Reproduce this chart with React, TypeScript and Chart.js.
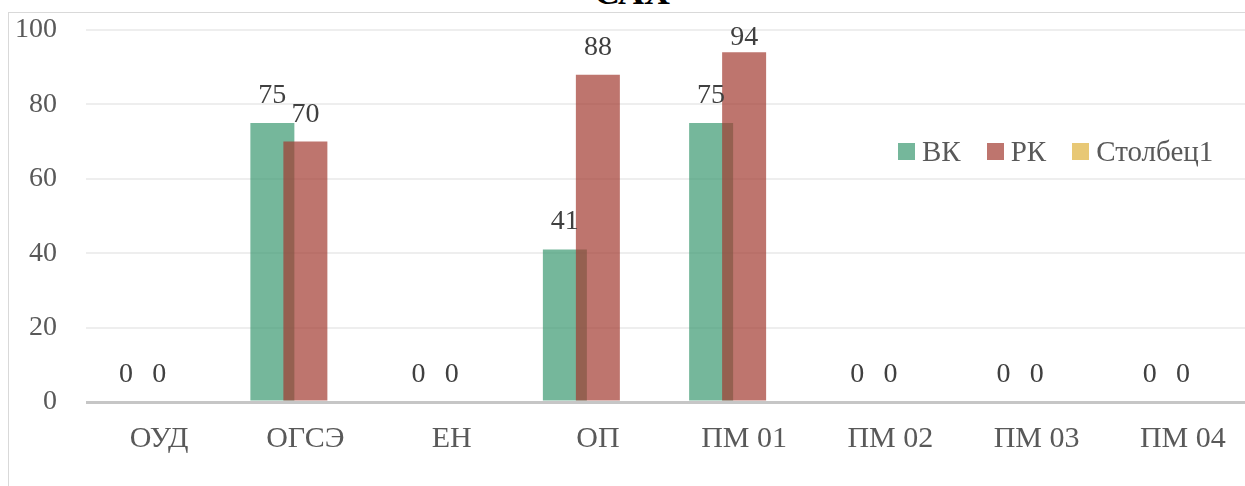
import React, { useEffect, useRef } from "react";
import { Chart, registerables } from "chart.js";

Chart.register(...registerables);

const categories = ["ОУД", "ОГСЭ", "ЕН", "ОП", "ПМ 01", "ПМ 02", "ПМ 03", "ПМ 04"];
const seriesVK = [0, 75, 0, 41, 75, 0, 0, 0];
const seriesRK = [0, 70, 0, 88, 94, 0, 0, 0];
const seriesCol1: (number | null)[] = [null, null, null, null, null, null, null, null];
const yTicks = [0, 20, 40, 60, 80, 100];
const seriesNames = ["ВК", "РК", "Столбец1"];

const COLORS = ["rgba(58,152,112,0.7)", "rgba(162,58,49,0.7)", "rgba(222,176,59,0.7)"];
const FONT = '"Liberation Serif", "Times New Roman", serif';

const drawOrderPlugin = {
  id: "drawOrder",
  beforeDatasetsDraw(chart: any) {
    const metas = chart.getSortedVisibleDatasetMetas();
    const ordered = [...metas].sort((a: any, b: any) => a.index - b.index);
    const ctx = chart.ctx;
    ctx.save();
    for (const m of ordered) m.controller.draw();
    ctx.restore();
    return false;
  },
};

const labelsPlugin = {
  id: "barLabels",
  afterDraw(chart: any) {
    const ctx = chart.ctx;
    const top = chart.chartArea.top;
    ctx.save();
    ctx.font = `28px ${FONT}`;
    ctx.fillStyle = "#404040";
    ctx.textAlign = "center";
    ctx.textBaseline = "alphabetic";
    [0, 1].forEach((di) => {
      const meta = chart.getDatasetMeta(di);
      const data = chart.data.datasets[di].data;
      meta.data.forEach((el: any, i: number) => {
        const v = data[i];
        if (v === null || v === undefined) return;
        const y = Math.max(el.y - 20, top + 15);
        ctx.fillText(String(v), el.x, y);
      });
    });
    ctx.restore();
  },
};

export default function App() {
  const ref = useRef<HTMLCanvasElement>(null);
  useEffect(() => {
    if (!ref.current) return;
    const chart = new Chart(ref.current, {
      type: "bar",
      data: {
        labels: categories,
        datasets: [
          { label: seriesNames[0], data: seriesVK, backgroundColor: COLORS[0] },
          { label: seriesNames[1], data: seriesRK, backgroundColor: COLORS[1] },
          { label: seriesNames[2], data: seriesCol1, backgroundColor: COLORS[2] },
        ],
      },
      options: {
        responsive: false,
        animation: false,
        events: [],
        layout: { padding: { top: 30, left: 0, right: 0, bottom: 0 } },
        datasets: { bar: { barPercentage: 1.333, categoryPercentage: 0.677, borderWidth: 0 } },
        plugins: { legend: { display: false }, tooltip: { enabled: false }, title: { display: false } },
        scales: {
          x: {
            grid: { display: false, drawTicks: false },
            border: { display: false },
            ticks: { color: "#595959", font: { family: FONT, size: 30 }, padding: 19 },
            afterFit: (s: any) => { s.height = 84; s.paddingLeft = 0; s.paddingRight = 0; },
          },
          y: {
            min: 0,
            max: 100,
            afterBuildTicks: (s: any) => { s.ticks = yTicks.map((v) => ({ value: v })); },
            grid: {
              drawTicks: false,
              color: (c: any) => (c.tick && c.tick.value === 0 ? "#c6c6c6" : "#eeeeee"),
              lineWidth: (c: any) => (c.tick && c.tick.value === 0 ? 3 : 2),
            },
            border: { display: false },
            ticks: { color: "#595959", font: { family: FONT, size: 28 }, padding: 29 },
            afterFit: (s: any) => { s.width = 86; s.paddingTop = 0; s.paddingBottom = 0; },
          },
        },
      },
      plugins: [drawOrderPlugin, labelsPlugin],
    } as any);
    return () => chart.destroy();
  }, []);

  return (
    <div style={{ position: "fixed", left: 0, top: 0, width: 1245, height: 486, overflow: "hidden", background: "#fff" }}>
      <div
        style={{
          position: "absolute", left: 532, width: 200, top: -26, textAlign: "center",
          fontFamily: FONT, fontWeight: "bold", fontSize: 36, lineHeight: 1, color: "#000",
        }}
      >
        САХ
      </div>
      <div style={{ position: "absolute", left: 8, top: 12, width: 1300, height: 600, borderLeft: "1px solid #d9d9d9", borderTop: "1px solid #d9d9d9" }} />
      <canvas ref={ref} width={1256} height={486} style={{ position: "absolute", left: 0, top: 0, width: 1256, height: 486 }} />
      <div style={{ position: "absolute", left: 898, top: 134, display: "flex", alignItems: "center", fontFamily: FONT, fontSize: 29, color: "#595959", lineHeight: "34px", whiteSpace: "nowrap" }}>
        {seriesNames.map((n, i) => (
          <div key={n} style={{ display: "flex", alignItems: "center", marginRight: 26 }}>
            <span style={{ display: "inline-block", width: 17, height: 17, background: COLORS[i], marginRight: 7 }} />
            <span>{n}</span>
          </div>
        ))}
      </div>
    </div>
  );
}
